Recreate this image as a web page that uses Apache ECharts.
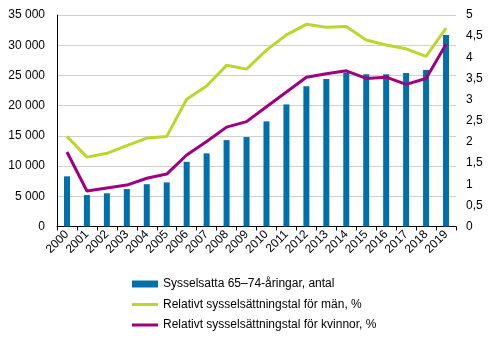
<!DOCTYPE html>
<html><head><meta charset="utf-8">
<script src="https://cdn.jsdelivr.net/npm/echarts@6/dist/echarts.min.js"></script>
<style>html,body{margin:0;padding:0;background:#fff}#c{width:492px;height:340px}</style>
</head><body><div id="c"></div>
<script>
var years = ['2000','2001','2002','2003','2004','2005','2006','2007','2008','2009','2010','2011','2012','2013','2014','2015','2016','2017','2018','2019'];
var employed = [8300,5200,5500,6200,7000,7300,10700,12100,14300,14800,17400,20200,23200,24400,25500,25200,25200,25400,25900,31700];
var menRate = [2.13,1.64,1.73,1.91,2.09,2.13,3.01,3.32,3.81,3.72,4.17,4.53,4.78,4.71,4.73,4.41,4.29,4.20,4.02,4.69];
var womenRate = [1.76,0.84,0.91,0.98,1.14,1.24,1.69,2.01,2.35,2.48,2.83,3.18,3.53,3.61,3.68,3.50,3.53,3.36,3.50,4.31];
var names = ['Sysselsatta 65–74-åringar, antal','Relativt sysselsättningstal för män, %','Relativt sysselsättningstal för kvinnor, %'];

var font = 'Liberation Sans, Arial, sans-serif';
var lineIcon = 'path://M0,0H26V3H0Z';
var chart = echarts.init(document.getElementById('c'), null, {renderer:'canvas'});
chart.setOption({
  animation:false,
  textStyle:{fontFamily:font},
  grid:{left:57,right:36,top:15,bottom:113.5,containLabel:false},
  legend:{
    orient:'vertical', left:127, top:273, itemWidth:26, itemHeight:7, itemGap:8.5,
    symbolKeepAspect:true,
    textStyle:{fontSize:12,color:'#000',fontFamily:font},
    data:[{name:names[0],icon:'rect'},{name:names[1],icon:lineIcon},{name:names[2],icon:lineIcon}]
  },
  xAxis:{
    type:'category', data:years, boundaryGap:true,
    axisLine:{lineStyle:{color:'#000',width:1}},
    axisTick:{show:true,length:4,lineStyle:{color:'#000'}},
    axisLabel:{rotate:45,fontSize:12,color:'#000',fontFamily:font,margin:6,interval:0}
  },
  yAxis:[{
    type:'value', min:0, max:35000, interval:5000,
    axisLine:{show:true,lineStyle:{color:'#000'}},
    axisTick:{show:false},
    splitLine:{lineStyle:{color:'#d0d0d0'}},
    axisLabel:{fontSize:12,color:'#000',fontFamily:font,margin:12,
      formatter:function(v){return String(v).replace(/\B(?=(\d{3})+(?!\d))/g,' ');}}
  },{
    type:'value', min:0, max:5, interval:0.5,
    axisLine:{show:false}, axisTick:{show:false}, splitLine:{show:false},
    axisLabel:{fontSize:12,color:'#000',fontFamily:font,margin:10,
      formatter:function(v){return String(v).replace('.',',');}}
  }],
  series:[
    {name:names[0],type:'bar',data:employed,barWidth:6,itemStyle:{color:'#0070ab'},yAxisIndex:0},
    {name:names[1],type:'line',data:menRate,yAxisIndex:1,symbol:'none',lineStyle:{color:'#bdd62c',width:3},itemStyle:{color:'#bdd62c'}},
    {name:names[2],type:'line',data:womenRate,yAxisIndex:1,symbol:'none',lineStyle:{color:'#a0007e',width:3},itemStyle:{color:'#a0007e'}}
  ]
});
</script></body></html>
